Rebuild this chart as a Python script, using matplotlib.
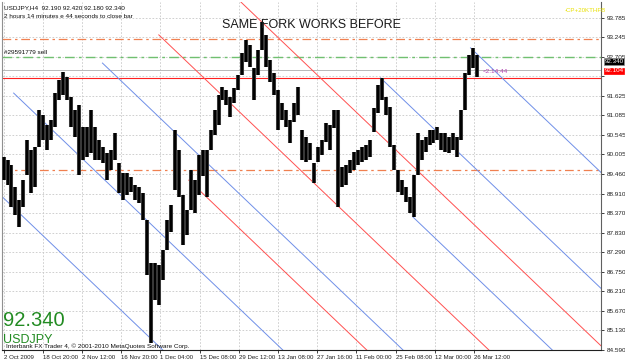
import numpy as np
import matplotlib.pyplot as plt

plt.rcParams['font.family'] = ['Liberation Sans', 'DejaVu Sans']

# USDJPY H4 - high / low of each group of bars
highs = [89.93, 89.85, 89.71, 89.10, 88.74, 89.29, 90.40, 90.12, 90.21, 91.23,
         91.09, 90.82, 90.95, 91.70, 92.06, 92.28, 92.14, 91.59, 91.23, 91.37,
         90.76, 90.76, 91.23, 90.76, 90.40, 90.21, 90.04, 90.12, 90.59, 89.77,
         89.49, 89.49, 89.38, 89.16, 89.10, 88.93, 88.19, 87.00, 87.00, 86.94,
         87.36, 88.19, 88.60, 90.68, 90.12, 88.88, 88.46, 89.57, 89.29, 89.99,
         90.12, 90.12, 90.68, 91.23, 91.65, 91.87, 91.78, 91.59, 91.84, 92.20,
         92.81, 93.17, 93.03, 92.39, 92.89, 93.67, 93.31, 92.61, 92.26, 91.78,
         91.43, 91.23, 90.95, 91.43, 91.87, 90.68, 90.48, 90.32, 89.77, 90.21,
         90.40, 90.87, 90.82, 91.23, 91.23, 89.65, 89.71, 89.85, 90.07, 90.12,
         90.21, 90.26, 90.40, 91.29, 91.92, 92.12, 91.59, 91.31, 90.26, 89.57,
         89.29, 89.10, 88.82, 89.43, 90.59, 90.40, 90.48, 90.68, 90.68, 90.76,
         90.59, 90.59, 90.48, 90.59, 90.48, 91.23, 92.26, 92.75, 92.95, 92.75]
lows = [89.29, 89.16, 88.55, 88.33, 87.99, 88.55, 89.43, 88.93, 89.10, 90.21,
        90.40, 90.12, 90.40, 90.76, 91.51, 91.65, 91.51, 90.76, 90.48, 89.43,
        89.85, 89.93, 90.04, 89.85, 89.85, 89.77, 89.29, 89.57, 89.85, 88.93,
        88.74, 88.88, 88.96, 88.74, 88.66, 88.19, 86.67, 84.78, 85.97, 85.84,
        86.53, 87.36, 87.86, 89.02, 88.82, 87.50, 87.77, 88.46, 88.38, 88.88,
        89.40, 88.82, 90.12, 90.54, 90.82, 91.51, 91.37, 91.04, 91.43, 91.78,
        92.20, 92.56, 92.42, 91.51, 92.20, 92.89, 92.42, 92.01, 91.65, 90.68,
        90.95, 90.76, 90.32, 90.90, 91.09, 89.85, 89.79, 89.85, 89.21, 89.79,
        89.99, 90.35, 90.12, 90.73, 88.55, 89.10, 89.16, 89.49, 89.57, 89.71,
        89.79, 89.85, 89.93, 90.62, 91.15, 91.51, 91.09, 90.21, 89.57, 88.96,
        88.88, 88.69, 88.38, 88.27, 89.43, 89.85, 90.07, 90.26, 90.32, 90.40,
        90.12, 90.07, 90.04, 90.12, 89.93, 90.40, 91.23, 92.20, 92.39, 92.14]
bars_per_group = 6.5

date_labels = ['2 Oct 2009', '18 Oct 20:00', '2 Nov 12:00', '16 Nov 20:00',
               '1 Dec 04:00', '15 Dec 08:00', '29 Dec 12:00', '13 Jan 08:00',
               '27 Jan 16:00', '11 Feb 00:00', '25 Feb 08:00', '12 Mar 00:00',
               '26 Mar 12:00']
bars_per_label = 64

price_ticks = [84.59, 85.13, 85.67, 86.21, 86.75, 87.29, 87.83, 88.37, 88.91,
               89.46, 90.005, 90.545, 91.085, 91.625, 92.165, 92.705, 93.245, 93.785]
price_labels = ['84.590', '85.130', '85.670', '86.210', '86.750', '87.290', '87.830',
                '88.370', '88.910', '89.460', '90.005', '90.545', '91.085', '91.625',
                '', '92.705', '93.245', '93.785']

# pitchfork lines: start bar, start price
fork_slope = -0.01618
blue_starts = [(0, 88.82), (18, 91.70), (163, 92.53), (617, 92.12), (670, 88.27), (764, 92.95)]
red_starts = [(255, 93.31), (304, 89.29), (389, 94.22)]

bid = 92.340
sell_price = 92.104
tp_level = 92.70
upper_level = 93.20
lower_level = 89.58

x_end = 977
fig = plt.figure(figsize=(6.25, 3.63), dpi=100)
ax = fig.add_axes([2 / 625, 13 / 363, 599 / 625, 348 / 363])
ax.set_xlim(-1, x_end)
ax.set_ylim(84.59, 94.22)

# grid
for t in price_ticks:
    ax.axhline(t, color='#c8c8c8', lw=0.6, ls=(0, (2, 2)), zorder=0)
for i in range(len(date_labels)):
    ax.axvline(i * bars_per_label + 1.5, color='#c8c8c8', lw=0.6, ls=(0, (2, 2)), zorder=0)

# horizontal levels
ax.axhline(upper_level, color='#f08050', lw=0.9, ls=(0, (7, 3, 2, 3)), zorder=1)
ax.axhline(tp_level, color='#70c070', lw=1.0, ls=(0, (7, 3, 2, 3)), zorder=1)
ax.axhline(lower_level, color='#f08050', lw=0.9, ls=(0, (7, 3, 2, 3)), zorder=1)
ax.axhline(bid, color='#b8b8b8', lw=0.7, zorder=1)
ax.axhline(sell_price, color='#ff2020', lw=0.8, zorder=1)

# pitchfork
for b0, p0 in blue_starts:
    ax.plot([b0, x_end], [p0, p0 + fork_slope * (x_end - b0)], color='#6f8fe8', lw=0.7, zorder=2)
for b0, p0 in red_starts:
    ax.plot([b0, x_end], [p0, p0 + fork_slope * (x_end - b0)], color='#ff5050', lw=0.7, zorder=2)

# price bars
x = np.arange(len(highs)) * bars_per_group + 1.5
ax.vlines(x, lows, highs, color='#383838', lw=2.9, zorder=3)
ax.vlines(x, lows, highs, color='#000000', lw=1.4, zorder=3)

# axes look
ax.spines['top'].set_visible(False)
ax.spines['left'].set_color('#909090')
ax.spines['right'].set_color('#606060')
ax.spines['bottom'].set_color('#202020')
ax.yaxis.tick_right()
ax.set_yticks(price_ticks)
ax.set_yticklabels(price_labels)
ax.tick_params(axis='y', length=2.5, width=0.6, pad=1.5, labelsize=4.6, colors='#202020')
ax.set_xticks([i * bars_per_label + 1.5 for i in range(len(date_labels))])
ax.set_xticklabels(date_labels, ha='left')
ax.tick_params(axis='x', length=2.5, width=0.6, pad=1.0, labelsize=4.4, colors='#202020')

# price boxes on the scale
ax.annotate('92.340', xy=(1.0, bid), xycoords=('axes fraction', 'data'),
            xytext=(2.5, 6.0), textcoords='offset points', fontsize=4.5, color='white',
            va='center', ha='left', annotation_clip=False, zorder=6,
            bbox=dict(boxstyle='square,pad=0.1', fc='black', ec='#909090', lw=0.5))
ax.annotate('92.104', xy=(1.0, sell_price), xycoords=('axes fraction', 'data'),
            xytext=(2.5, 5.5), textcoords='offset points', fontsize=4.5, color='white',
            va='center', ha='left', annotation_clip=False, zorder=6,
            bbox=dict(boxstyle='square,pad=0.1', fc='#ff0000', ec='#ff0000', lw=0.5))

# texts
ax.text(0.004, 0.99, 'USDJPY,H4  92.190 92.420 92.180 92.340', transform=ax.transAxes,
        fontsize=4.6, va='top', ha='left', color='#101010')
ax.text(0.004, 0.965, '2 hours 14 minutes e 44 seconds to close bar', transform=ax.transAxes,
        fontsize=4.6, va='top', ha='left', color='#101010')
ax.text(0.004, tp_level + 0.06, '#29591779 sell', fontsize=4.6, va='bottom', ha='left',
        color='#101010', transform=ax.get_yaxis_transform())
ax.text(0.517, 0.935, 'SAME FORK WORKS BEFORE', transform=ax.transAxes,
        fontsize=9, ha='center', va='center', color='#1a1a1a')
ax.text(0.94, 0.975, '-CP+20KTHFB', transform=ax.transAxes, fontsize=4.4,
        ha='left', va='center', color='#e8e000')
ax.text(x[-1] + 8, bid - 0.05, '<2:14:44', fontsize=4.6, ha='left', va='center', color='#b040b0')
ax.text(0.002, 0.085, '92.340', transform=ax.transAxes, fontsize=14.5,
        ha='left', va='center', color='#228b22')
ax.text(0.002, 0.03, 'USDJPY', transform=ax.transAxes, fontsize=9,
        ha='left', va='center', color='#228b22')
ax.text(0.006, 0.012, 'Interbank FX Trader 4, \u00a9 2001-2010 MetaQuotes Software Corp.',
        transform=ax.transAxes, fontsize=4.6, ha='left', va='center', color='#101010')

plt.savefig('out.png', dpi=100)
